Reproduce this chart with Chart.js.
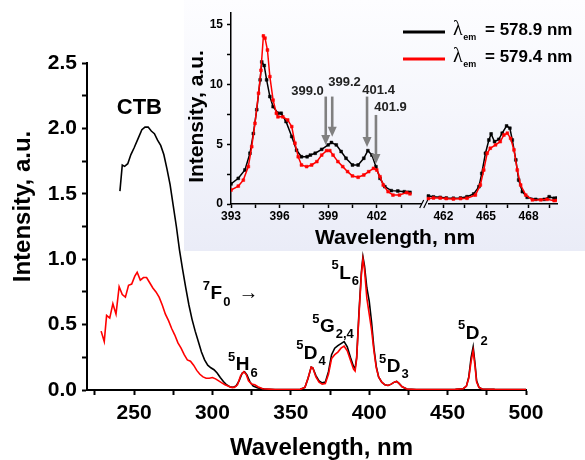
<!DOCTYPE html>
<html><head><meta charset="utf-8">
<script src="https://cdn.jsdelivr.net/npm/chart.js@4"></script>
<style>
html,body{margin:0;padding:0;background:#fff;}
#wrap{position:relative;width:585px;height:460px;overflow:hidden;}
#main{position:absolute;left:0;top:0;}
#insetBox{position:absolute;left:184px;top:0;width:401px;height:251px;
  background:linear-gradient(to bottom,#fdfdff 0%,#f5f6fc 45%,#eaecf7 100%);}
#inset{position:absolute;left:0;top:0;}
</style></head>
<body>
<div id="wrap">
<canvas id="main" width="585" height="460"></canvas>
<div id="insetBox"><canvas id="inset" width="401" height="251"></canvas></div>
</div>
<script>
const FONT = "'Liberation Sans', Arial, Helvetica, sans-serif";

// ---------- main spectrum data ----------
const mainWlBlack = [241,242.5,244,246,248,250,252.5,255,257,259,261,263,265,267,269,271,273,275,277,279,281,283,285,287,289,291,293,295,297,299,301,303,305,307,309,311,313,315,317,319,320.5,322,324,326,329,333,340,350,356,359,361,363,364,366,368,370,372,374,376,378,380,382,384,386,388,390,391,392,393.5,395,396,397,398.5,400,401.5,403,404.5,406,408,410,412,414,416,417.5,419,421,424,430,440,455,460,462,463.5,465,466.3,467.5,468.5,470,472,480,490,500];
const mainIntBlack = [1.52,1.72,1.71,1.73,1.80,1.85,1.92,1.99,2.01,2.01,1.98,1.96,1.91,1.87,1.80,1.69,1.57,1.41,1.25,1.07,0.92,0.78,0.65,0.54,0.45,0.37,0.29,0.23,0.19,0.17,0.155,0.13,0.095,0.065,0.04,0.025,0.02,0.03,0.07,0.13,0.14,0.115,0.06,0.03,0.015,0.008,0.004,0.004,0.006,0.02,0.09,0.175,0.17,0.11,0.07,0.055,0.06,0.14,0.27,0.32,0.34,0.355,0.37,0.33,0.25,0.18,0.165,0.25,0.6,0.9,1.02,0.95,0.78,0.68,0.52,0.32,0.18,0.10,0.06,0.04,0.035,0.045,0.06,0.065,0.05,0.025,0.008,0.004,0.004,0.006,0.01,0.03,0.1,0.25,0.33,0.2,0.07,0.02,0.008,0.005,0.004,0.004];
const mainWlRed = [229,231,232.5,234.5,236.5,238.5,240.5,242.5,244.5,246.5,248.5,250.5,252,254,256,258,260,262,264,266,268,270,272,274,276,278,280,282,284,286,288,290,292,294,296,298,300,302,304,306,308,310,312,314,316,318,320,321.5,323,325,327,329,332,340,350,356,359,361,363,364,366,368,370,372,374,376,378,380,382,384,386,388,390,391,392,393.5,395,396,397,398.5,400,401.5,403,404.5,406,408,410,412,414,416,417.5,419,421,424,430,440,455,460,462,463.5,465,466.3,467.5,468.5,470,472,480,490,500];
const mainIntRed = [0.45,0.37,0.57,0.55,0.66,0.58,0.79,0.73,0.71,0.80,0.81,0.87,0.90,0.84,0.86,0.86,0.82,0.78,0.75,0.71,0.65,0.58,0.53,0.47,0.42,0.36,0.32,0.27,0.23,0.22,0.19,0.15,0.12,0.10,0.09,0.09,0.095,0.085,0.07,0.055,0.04,0.03,0.02,0.02,0.04,0.11,0.14,0.12,0.07,0.045,0.04,0.025,0.01,0.003,0.003,0.005,0.02,0.09,0.175,0.17,0.1,0.06,0.045,0.05,0.12,0.24,0.27,0.29,0.32,0.335,0.30,0.23,0.16,0.145,0.24,0.58,0.88,1.0,0.92,0.70,0.58,0.46,0.30,0.17,0.10,0.06,0.04,0.035,0.045,0.06,0.065,0.05,0.025,0.008,0.004,0.004,0.005,0.01,0.03,0.09,0.22,0.30,0.18,0.06,0.02,0.008,0.005,0.004,0.004];

// band assignment labels (data coordinates of the main letter)
const bandSup  = ['',   '7',   '5',  '5',  '5',   '5',   '5',   '5'];
const bandMain = ['CTB','F',   'H',  'D',  'G',   'L',   'D',   'D'];
const bandSub  = ['',   '0',   '6',  '4',  '2,4', '6',   '3',   '2'];
const bandTail = ['',   '\u2192','', '',   '',    '',    '',    ''];
const bandX    = [253.4,302.5, 319.3,362.7,373.3, 384.6, 415.5, 465.9];
const bandY    = [2.16, 0.734, 0.19, 0.28, 0.484, 0.892, 0.178, 0.433];

// ---------- inset data ----------
const insWlBlackA = [393.0,393.45,393.86,394.17,394.38,394.59,394.8,394.9,395.05,395.2,395.4,395.6,395.9,396.1,396.4,396.75,397.05,397.35,397.7,397.9,398.2,398.6,399.0,399.2,399.5,399.8,400.1,400.5,400.85,401.2,401.45,401.7,401.95,402.2,402.5,402.9,403.3,403.7,403.9,404.05];
const insIntBlackA = [1.68,2.15,2.85,4.25,5.9,7.9,10.4,11.9,11.6,10.4,9.0,8.15,7.6,7.6,6.9,5.65,4.5,3.96,3.96,4.1,4.25,4.58,4.95,5.15,4.95,4.4,3.83,3.27,3.27,3.83,4.47,4.1,3.13,2.15,1.45,1.12,1.09,1.03,0.98,0.98];
const insWlRedA = [393.0,393.45,393.76,394.07,394.28,394.48,394.7,394.85,395.0,395.1,395.25,395.4,395.6,395.8,395.9,396.2,396.5,396.75,396.95,397.15,397.35,397.67,397.98,398.3,398.6,398.9,399.1,399.3,399.6,399.9,400.2,400.5,400.85,401.2,401.5,401.8,402.0,402.2,402.4,402.7,403.0,403.4,403.85,404.05];
const insIntRedA = [1.17,1.5,2.0,3.13,4.8,6.76,9.28,11.2,14.08,13.9,12.9,10.67,8.7,7.6,7.3,7.3,7.04,6.48,5.09,3.96,3.27,3.13,3.27,3.55,4.1,4.47,4.47,4.1,3.55,3.13,2.71,2.35,2.24,2.43,2.71,2.99,2.85,2.29,1.59,1.03,0.75,0.75,0.95,0.85];
const insWlBlackB = [460.94,461.3,461.77,462.2,462.7,463.2,463.66,464.13,464.5,464.7,464.96,465.2,465.36,465.6,465.9,466.14,466.45,466.68,466.85,467.1,467.3,467.56,467.9,468.5,469.1,469.45,469.8,470.0];
const insIntBlackB = [0.67,0.6,0.56,0.5,0.48,0.5,0.61,0.84,1.45,2.57,4.25,5.36,5.87,5.22,5.42,5.93,6.54,6.35,5.36,3.69,2.01,1.03,0.56,0.39,0.39,0.61,0.48,0.5];
const insWlRedB = [460.94,461.3,461.77,462.2,462.7,463.2,463.66,464.25,464.6,464.84,465.08,465.3,465.67,466.0,466.26,466.5,466.73,466.97,467.2,467.44,467.8,468.27,468.86,469.3,469.8,470.0];
const insIntRedB = [0.45,0.5,0.5,0.45,0.42,0.45,0.48,0.75,1.59,2.85,4.25,4.67,4.95,5.22,5.78,5.93,5.5,4.53,2.85,1.59,0.75,0.34,0.34,0.39,0.28,0.3];

// peak markers in the inset
const peakLabels    = ['399.0','399.2','401.4','401.9'];
const peakArrowX    = [398.85, 399.25, 401.4, 401.95];
const peakArrowTip  = [4.95, 5.64, 4.78, 3.35];
const peakArrowTail = [9.0, 9.0, 9.0, 7.46];

// legend of the inset
const legendSymbol = ['\u03bb','\u03bb'];
const legendSub    = ['em','em'];
const legendText   = ['= 578.9 nm','= 579.4 nm'];
const seriesColors = ['#000000','#ff0000'];

const pts = (xs, ys) => xs.map((x, i) => ({x: x, y: ys[i]}));
const stepTicks = (step) => (s) => {
  const out = [];
  const k0 = Math.ceil(s.min / step - 1e-9);
  for (let k = k0; k * step <= s.max + 1e-9; k++) out.push({value: Math.round(k * step * 1e6) / 1e6});
  s.ticks = out;
};
const isMult = (v, m) => Math.abs(v / m - Math.round(v / m)) < 1e-6;

Chart.defaults.font.family = FONT;
Chart.defaults.color = '#000';

// ---------- main chart ----------
const mainDeco = {
  id: 'mainDeco',
  afterDatasetsDraw(chart) {
    const {ctx, chartArea, scales} = chart;
    const x = scales.x, y = scales.y;
    ctx.save();
    ctx.fillStyle = '#000';
    ctx.textBaseline = 'middle';
    ctx.textAlign = 'center';
    ctx.font = 'bold 24px ' + FONT;
    ctx.fillText('Wavelength, nm', (chartArea.left + chartArea.right) / 2 + 15, 448);
    ctx.save();
    ctx.translate(23, (chartArea.top + chartArea.bottom) / 2 - 20);
    ctx.rotate(-Math.PI / 2);
    ctx.fillText('Intensity, a.u.', 0, 0);
    ctx.restore();

    for (let i = 0; i < bandMain.length; i++) {
      const px = x.getPixelForValue(bandX[i]);
      const py = y.getPixelForValue(bandY[i]);
      const big = bandMain[i] === 'CTB' ? 22 : 19;
      ctx.font = 'bold ' + big + 'px ' + FONT;
      const w = ctx.measureText(bandMain[i]).width;
      const left = px - w / 2;
      ctx.textAlign = 'left';
      ctx.fillText(bandMain[i], left, py);
      ctx.font = 'bold 13px ' + FONT;
      if (bandSup[i]) {
        ctx.textAlign = 'right';
        ctx.fillText(bandSup[i], left - 0.5, py - 7.5);
      }
      let end = left + w;
      if (bandSub[i]) {
        ctx.textAlign = 'left';
        ctx.fillText(bandSub[i], end + 1, py + 8);
        end += 1 + ctx.measureText(bandSub[i]).width;
      }
      if (bandTail[i]) {
        ctx.font = '20px ' + FONT;
        ctx.textAlign = 'left';
        ctx.fillText(bandTail[i], end + 8, py - 1);
      }
    }
    ctx.restore();
  }
};

new Chart(document.getElementById('main'), {
  type: 'line',
  data: {
    datasets: [
      {label: 'black', data: pts(mainWlBlack, mainIntBlack), borderColor: seriesColors[0], borderWidth: 1.6, pointRadius: 0, tension: 0, order: 1},
      {label: 'red', data: pts(mainWlRed, mainIntRed), borderColor: seriesColors[1], borderWidth: 1.6, pointRadius: 0, tension: 0, order: 0}
    ]
  },
  options: {
    responsive: false, animation: false,
    layout: {padding: {top: 63, right: 59, left: 0, bottom: 0}},
    plugins: {legend: {display: false}, tooltip: {enabled: false}},
    scales: {
      x: {
        type: 'linear', min: 220, max: 500,
        afterBuildTicks: stepTicks(25),
        afterFit: s => { s.height = 70; },
        ticks: {autoSkip: false, maxRotation: 0, padding: 6, color: '#000',
          font: {size: 21, weight: 'bold'},
          callback: v => isMult(v, 50) ? String(v) : ''},
        grid: {drawOnChartArea: false, drawTicks: true, tickLength: 5, tickWidth: 2, tickColor: '#000'},
        border: {display: true, color: '#000', width: 2}
      },
      y: {
        type: 'linear', min: 0, max: 2.5,
        afterBuildTicks: stepTicks(0.25),
        afterFit: s => { s.width = 87; },
        ticks: {autoSkip: false, padding: 5, color: '#000',
          font: {size: 21, weight: 'bold'},
          callback: v => isMult(v, 0.5) ? v.toFixed(1) : ''},
        grid: {drawOnChartArea: false, drawTicks: true, tickLength: 5, tickWidth: 2, tickColor: '#000'},
        border: {display: true, color: '#000', width: 2}
      }
    }
  },
  plugins: [mainDeco]
});

// ---------- inset chart ----------
const insetDeco = {
  id: 'insetDeco',
  afterDraw(chart) {
    const {ctx, chartArea, scales} = chart;
    const x1 = scales.x1, y = scales.y;
    ctx.save();
    // axis break
    const bx = x1.right, by = chartArea.bottom;
    ctx.clearRect(bx - 3, by - 3, 6, 6);
    ctx.strokeStyle = '#000'; ctx.lineWidth = 1.2;
    ctx.beginPath();
    ctx.moveTo(bx - 5, by + 4); ctx.lineTo(bx - 1, by - 4);
    ctx.moveTo(bx - 1, by + 4); ctx.lineTo(bx + 3, by - 4);
    ctx.stroke();

    // titles
    ctx.fillStyle = '#000';
    ctx.textAlign = 'center'; ctx.textBaseline = 'middle';
    ctx.font = 'bold 21px ' + FONT;
    ctx.fillText('Wavelength, nm', (chartArea.left + chartArea.right) / 2 + 1, 238);
    ctx.save();
    ctx.translate(13, (chartArea.top + chartArea.bottom) / 2 + 8);
    ctx.rotate(-Math.PI / 2);
    ctx.fillText('Intensity, a.u.', 0, 0);
    ctx.restore();

    // arrows & labels
    const labelDx = [-2, -4, -4.7, -1.7];
    const labelUp = [0, 8.3, 0.7, 2];
    for (let i = 0; i < peakLabels.length; i++) {
      const px = x1.getPixelForValue(peakArrowX[i]);
      const pt = y.getPixelForValue(peakArrowTip[i]);
      const ptop = y.getPixelForValue(peakArrowTail[i]);
      ctx.strokeStyle = '#808080'; ctx.fillStyle = '#808080';
      ctx.lineWidth = 2.6;
      ctx.beginPath(); ctx.moveTo(px, ptop); ctx.lineTo(px, pt - 8); ctx.stroke();
      ctx.beginPath(); ctx.moveTo(px - 4.5, pt - 10); ctx.lineTo(px + 4.5, pt - 10); ctx.lineTo(px, pt); ctx.closePath(); ctx.fill();
      ctx.fillStyle = '#222';
      ctx.font = 'bold 13px ' + FONT;
      ctx.textBaseline = 'bottom';
      ctx.textAlign = i === 0 ? 'right' : 'left';
      ctx.fillText(peakLabels[i], px + labelDx[i], ptop - labelUp[i] + 1);
    }

    // legend
    const rowY = [32, 59];
    for (let i = 0; i < legendText.length; i++) {
      ctx.strokeStyle = seriesColors[i]; ctx.lineWidth = 3;
      ctx.beginPath(); ctx.moveTo(219, rowY[i]); ctx.lineTo(261, rowY[i]); ctx.stroke();
      ctx.fillStyle = '#000';
      ctx.textAlign = 'left'; ctx.textBaseline = 'middle';
      ctx.font = '20px "Liberation Serif", "Times New Roman", serif';
      ctx.fillText(legendSymbol[i], 269, rowY[i] - 2);
      const lw = ctx.measureText(legendSymbol[i]).width;
      ctx.font = 'bold 9px ' + FONT;
      ctx.fillText(legendSub[i], 269 + lw + 0.5, rowY[i] + 6);
      ctx.font = 'bold 17px ' + FONT;
      ctx.fillText(legendText[i], 301, rowY[i] - 1.5);
    }
    ctx.restore();
  }
};

const insetLine = (xs, ys, color, axis, ord) => ({
  data: pts(xs, ys), xAxisID: axis, yAxisID: 'y', order: ord,
  borderColor: color, backgroundColor: color, borderWidth: 1.5,
  pointStyle: 'rect', pointRadius: 2, pointBorderWidth: 0.5, pointBackgroundColor: color, pointBorderColor: color,
  tension: 0
});

const insetX = (min, max, weight) => ({
  type: 'linear', position: 'bottom', stack: 'wl', stackWeight: weight, min: min, max: max,
  afterBuildTicks: stepTicks(1.5),
  afterFit: s => { s.height = 47; },
  ticks: {autoSkip: false, maxRotation: 0, padding: 1.5, color: '#000',
    font: {size: 12, weight: 'bold'},
    callback: v => isMult(v, 3) ? String(Math.round(v)) : ''},
  grid: {drawOnChartArea: false, drawTicks: true, tickLength: 4, tickWidth: 1.5, tickColor: '#000'},
  border: {display: true, color: '#000', width: 1.5}
});

new Chart(document.getElementById('inset'), {
  type: 'line',
  data: {
    datasets: [
      insetLine(insWlBlackA, insIntBlackA, seriesColors[0], 'x1', 1),
      insetLine(insWlRedA, insIntRedA, seriesColors[1], 'x1', 0),
      insetLine(insWlBlackB, insIntBlackB, seriesColors[0], 'x2', 1),
      insetLine(insWlRedB, insIntRedB, seriesColors[1], 'x2', 0)
    ]
  },
  options: {
    responsive: false, animation: false,
    layout: {padding: {top: 13, right: 28, left: 0, bottom: 0}},
    plugins: {legend: {display: false}, tooltip: {enabled: false}},
    scales: {
      x1: insetX(393, 404.96, 193.7),
      x2: insetX(460.68, 470.0, 132.3),
      y: {
        type: 'linear', position: 'left', min: 0, max: 16,
        afterBuildTicks: stepTicks(2.5),
        afterFit: s => { s.width = 47; },
        ticks: {autoSkip: false, padding: 4, color: '#000',
          font: {size: 12, weight: 'bold'},
          callback: v => isMult(v, 5) ? String(Math.round(v)) : ''},
        grid: {drawOnChartArea: false, drawTicks: true, tickLength: 4, tickWidth: 1.5, tickColor: '#000'},
        border: {display: true, color: '#000', width: 1.5}
      }
    }
  },
  plugins: [insetDeco]
});
</script>
</body></html>
